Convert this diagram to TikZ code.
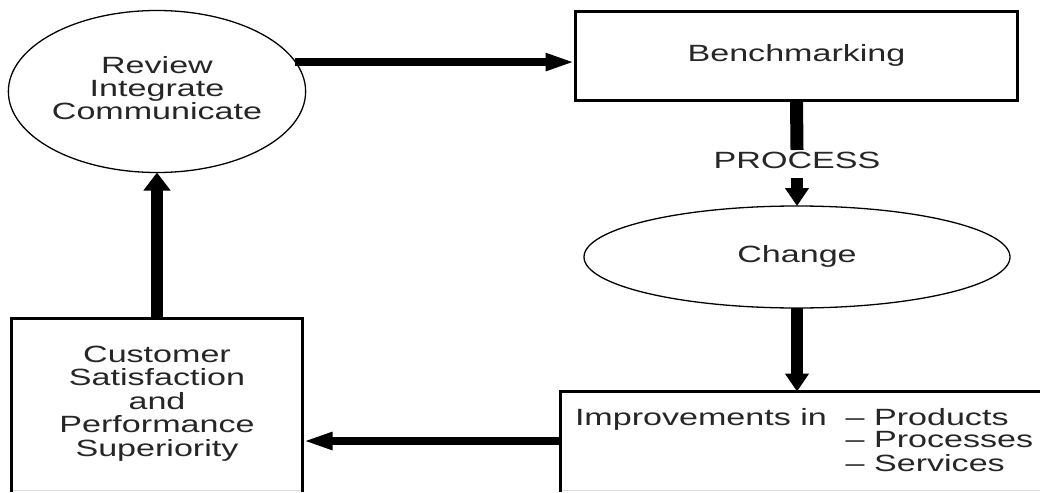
\documentclass[tikz,border=0pt]{standalone}
\usepackage{fontspec}
\setmainfont{Liberation Sans}
\usetikzlibrary{arrows.meta,shapes.geometric}
% wide lettering: horizontally stretched, centred lines
\newcommand\widelines[1]{\scalebox{1.45}[1]{\begin{tabular}{@{}c@{}}#1\end{tabular}}}
\begin{document}
\begin{tikzpicture}[x=1pt,y=-1pt,
  every node/.style={font=\fontsize{23.5}{21.6}\selectfont, text=black!85,
    inner sep=0pt, outer sep=0pt},
  box/.style={draw=black, line width=3pt, rectangle, align=center},
  oval/.style={draw=black, line width=1.3pt, ellipse, align=center},
  bigflow/.style={line width=12pt, -{Triangle[length=18pt,width=26pt]}},
  midflow/.style={line width=12pt, -{Triangle[length=18pt,width=23pt]}},
  sideflow/.style={line width=8.5pt, -{Triangle[length=30pt,width=16pt]}},
  stem/.style={line width=13pt},
  openedge/.style={draw=black!15, line width=1.2pt}
]
\useasboundingbox (0,0) rectangle (1040,492);
\fill[white] (0,0) rectangle (1040,492);

% cycle nodes
\node[oval, minimum width=294pt, minimum height=162pt] (review) at (157,91.5)
  {\widelines{Review\\Integrate\\Communicate}};
\node[box, minimum width=442pt, minimum height=89pt] (bench) at (796.5,56)
  {\widelines{Benchmarking}};
\node[minimum height=28pt] (proc) at (797,164) {\widelines{PROCESS}};
\node[oval, minimum width=426pt, minimum height=102pt] (change) at (797,257)
  {\widelines{Change}};
\node[box, minimum width=489.5pt, minimum height=99pt] (imp) at (805.25,441) {};
\node[anchor=base west] (imptext) at (575,425)
  {\scalebox{1.45}[1]{\begin{tabular}[t]{@{}l@{\hspace{13pt}}l@{}}
   Improvements in & -- Products\\
                   & -- Processes\\
                   & -- Services
   \end{tabular}}};
\node[box, minimum width=291pt, minimum height=172pt] (cust) at (157,404.5)
  {\widelines{Customer\\Satisfaction\\and\\Performance\\Superiority}};

% faded lower edges of the two bottom boxes
\foreach \b in {imp,cust}{
  \draw[white, line width=3.6pt] ([xshift=1.6pt]\b.south west) -- ([xshift=-1.6pt]\b.south east);
  \draw[openedge] ([xshift=1.6pt]\b.south west) -- ([xshift=-1.6pt]\b.south east);
}

% connectors
\draw[sideflow] (review.12) -- (review.12 -| bench.west);
\draw[stem] (bench.south) -- (proc.north);
\draw[midflow] (proc.south) -- (change.north);
\draw[midflow] (change.south) -- (change.south |- imp.north);
\draw[sideflow] (imp.west) -- (cust.east |- imp.west);
\draw[bigflow] (cust.north) -- (review.south);
\end{tikzpicture}
\end{document}
